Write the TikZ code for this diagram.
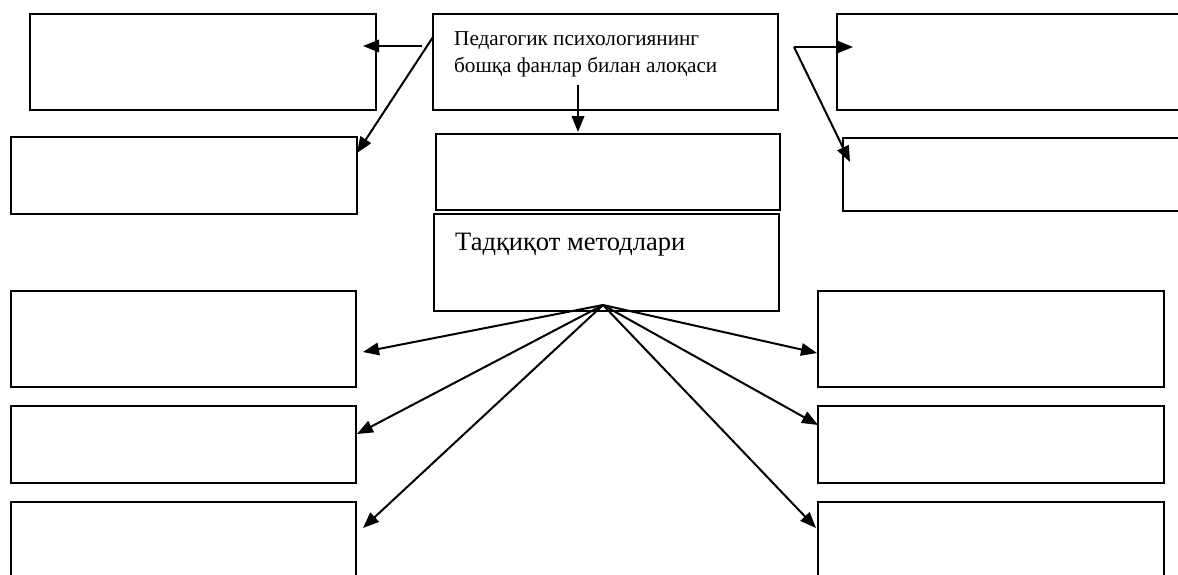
\documentclass[tikz,border=0pt]{standalone}
\usepackage{fontspec}
\setmainfont{Liberation Serif}
\usetikzlibrary{arrows.meta}
\begin{document}
\begin{tikzpicture}[x=1pt,y=-1pt,
  box/.style={draw=black,line width=1.9pt,fill=none,inner sep=0pt,anchor=north west},
  arr/.style={line width=2pt,-{Triangle[length=16pt,width=12.5pt]}},
  lbl/.style={inner sep=0pt,anchor=base west}]
\useasboundingbox (0,0) rectangle (1178,574);
\clip (0,0) rectangle (1178,574);
\fill[white] (0,0) rectangle (1178,574);
% top-left boxes
\node[box,minimum width=346pt,minimum height=96pt] (tl1) at (29,13) {};
\node[box,minimum width=346pt,minimum height=77pt] (tl2) at (10,136) {};
% centre boxes
\node[box,minimum width=345pt,minimum height=96pt] (ct) at (432,13) {};
\node[box,minimum width=344pt,minimum height=76pt] (cm) at (435,133) {};
\node[box,minimum width=345pt,minimum height=97pt] (cb) at (433,213) {};
% top-right boxes
\node[box,minimum width=360pt,minimum height=96pt] (tr1) at (836,13) {};
\node[box,minimum width=360pt,minimum height=73pt] (tr2) at (842,137) {};
% bottom-left
\node[box,minimum width=345pt,minimum height=96pt] (bl1) at (10,290) {};
\node[box,minimum width=345pt,minimum height=77pt] (bl2) at (10,405) {};
\node[box,minimum width=345pt,minimum height=90pt] (bl3) at (10,501) {};
% bottom-right
\node[box,minimum width=346pt,minimum height=96pt] (br1) at (817,290) {};
\node[box,minimum width=346pt,minimum height=77pt] (br2) at (817,405) {};
\node[box,minimum width=346pt,minimum height=90pt] (br3) at (817,501) {};
% texts
\node[lbl,font=\fontsize{21.2}{27}\selectfont] (t1) at (454,45) {Педагогик психологиянинг};
\node[lbl,font=\fontsize{21.2}{27}\selectfont] (t2) at (454,72) {бошқа фанлар билан алоқаси};
\node[lbl,font=\fontsize{26.5}{30}\selectfont] (t3) at (455,250) {Тадқиқот методлари};
% connector coordinates
\coordinate (lA) at (422,46);
\coordinate (lAt) at (363,46);
\coordinate (lB) at (433,37);
\coordinate (lBt) at (357,153);
\coordinate (dA) at (578,85);
\coordinate (dAt) at (578,132);
\coordinate (rO) at (794,47);
\coordinate (rAt) at (853,47);
\coordinate (rBt) at (850,162);
\coordinate (fO) at (603,305);
\coordinate (f1) at (363,352);
\coordinate (f2) at (357,434);
\coordinate (f3) at (363,528);
\coordinate (f4) at (817,353);
\coordinate (f5) at (818,425);
\coordinate (f6) at (816,528);
% arrows
\draw[arr] (lA) -- (lAt);
\draw[arr] (lB) -- (lBt);
\draw[arr] (dA) -- (dAt);
\draw[arr] (rO) -- (rAt);
\draw[arr] (rO) -- (rBt);
\foreach \t in {f1,f2,f3,f4,f5,f6} \draw[arr] (fO) -- (\t);
\end{tikzpicture}
\end{document}
